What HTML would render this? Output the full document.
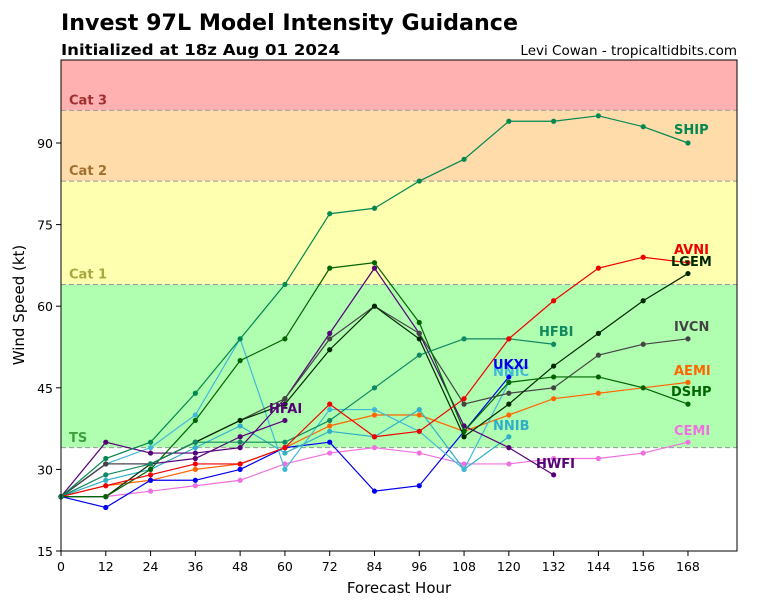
<!DOCTYPE html>
<html><head><meta charset="utf-8"><style>
html,body{margin:0;padding:0;background:#fff;}
svg{display:block;font-family:"DejaVu Sans","Liberation Sans",sans-serif;}
</style></head><body>
<svg id="s" width="768" height="600" xmlns="http://www.w3.org/2000/svg">
<rect width="768" height="600" fill="#fff"/>
<g id="bands"></g>
<g id="series"></g>
<rect x="61" y="60" width="676" height="491" fill="none" stroke="#000" stroke-width="1"/>
<g id="ticks" font-size="12.5" fill="#000"></g>
<text x="61" y="30" font-size="22" font-weight="bold" textLength="457" lengthAdjust="spacingAndGlyphs">Invest 97L Model Intensity Guidance</text>
<text x="61" y="55" font-size="15.5" font-weight="bold" textLength="279" lengthAdjust="spacingAndGlyphs">Initialized at 18z Aug 01 2024</text>
<text x="737" y="55" font-size="13.5" text-anchor="end">Levi Cowan - tropicaltidbits.com</text>
<text x="399" y="593" font-size="15" text-anchor="middle">Forecast Hour</text>
<text x="24" y="305" font-size="15" text-anchor="middle" transform="rotate(-90 24 305)">Wind Speed (kt)</text>
<g id="labels" font-size="13" font-weight="bold"></g>
</svg>
<script>
var X=function(h){return 61+h*3.732;},Y=function(v){return 551-(v-15)*5.44;};
var NS="http://www.w3.org/2000/svg";
function el(p,t,a,txt){var e=document.createElementNS(NS,t);for(var k in a)e.setAttribute(k,a[k]);if(txt)e.textContent=txt;document.getElementById(p).appendChild(e);return e;}
var bands=[[96,105.3,"#ffb0b0"],[83,96,"#ffdcaa"],[64,83,"#ffffb0"],[34,64,"#b0ffb0"]];
bands.forEach(function(b){el("bands","rect",{x:61,y:Y(b[1]),width:676,height:Y(b[0])-Y(b[1]),fill:b[2]});});
[96,83,64,34].forEach(function(v){el("bands","line",{x1:61,x2:737,y1:Y(v),y2:Y(v),stroke:"#999","stroke-dasharray":"5,3","stroke-width":1});});
[["Cat 3",98,"#a03030"],["Cat 2",85,"#a07030"],["Cat 1",66,"#a8a840"],["TS",36,"#40a040"]].forEach(function(c){el("bands","text",{x:69,y:Y(c[1])+5,"font-size":13,"font-weight":"bold",fill:c[2]},c[0]);});
for(var h=0;h<=168;h+=12){el("ticks","line",{x1:X(h),x2:X(h),y1:551,y2:556,stroke:"#000"});el("ticks","text",{x:X(h),y:571,"text-anchor":"middle"},String(h));}
[15,30,45,60,75,90].forEach(function(v){el("ticks","line",{x1:56,x2:61,y1:Y(v),y2:Y(v),stroke:"#000"});el("ticks","text",{x:53,y:Y(v)+5,"text-anchor":"end"},String(v));});
var S=[
["CEMI","#f070e0",[25,25,26,27,28,31,33,34,33,31,31,32,32,33,35]],
["AEMI","#ff6600",[25,27,28,30,31,34,38,40,40,37,40,43,44,45,46]],
["UKXI","#0000ee",[25,23,28,28,30,34,35,26,27,37,47]],
["NNIB","#30b0c8",[25,28,30,34,38,33,37,36,41,30,36]],
["NNIC","#40b8d8",[25,31,34,40,54,30,41,41,37,30,46]],
["HFAI","#550077",[25,31,31,32,36,39]],
["HWFI","#550077",[25,35,33,33,34,43,55,67,55,38,34,29]],
["IVCN","#444444",[25,31,31,35,39,43,54,60,55,42,44,45,51,53,54]],
["LGEM","#002800",[25,25,31,35,39,42,52,60,54,36,42,49,55,61,66]],
["DSHP","#006400",[25,25,30,39,50,54,67,68,57,37,46,47,47,45,42]],
["HFBI","#108860",[25,29,31,35,35,35,39,45,51,54,54,53]],
["AVNI","#ee0000",[25,27,29,31,31,34,42,36,37,43,54,61,67,69,68]],
["SHIP","#008850",[25,32,35,44,54,64,77,78,83,87,94,94,95,93,90]]
];
S.forEach(function(s){var pts=s[2].map(function(v,i){return X(i*12)+","+Y(v);}).join(" ");
el("series","polyline",{points:pts,fill:"none",stroke:s[1],"stroke-width":1.2});
s[2].forEach(function(v,i){el("series","circle",{cx:X(i*12),cy:Y(v),r:2.6,fill:s[1]});});});
[["SHIP",674,134,"#008850"],["AVNI",674,254,"#ee0000"],["LGEM",671,266,"#002800"],["IVCN",674,331,"#444444"],["AEMI",674,375,"#ff6600"],["DSHP",671,396,"#006400"],["CEMI",674,435,"#f070e0"],["HFBI",539,336,"#108860"],["NNIC",493,376,"#40b8d8"],["UKXI",493,369,"#0000ee"],["NNIB",493,430,"#30b0c8"],["HWFI",536,468,"#550077"],["HFAI",269,413,"#550077"]].forEach(function(l){el("labels","text",{x:l[1],y:l[2],fill:l[3]},l[0]);});
</script>
</body></html>
